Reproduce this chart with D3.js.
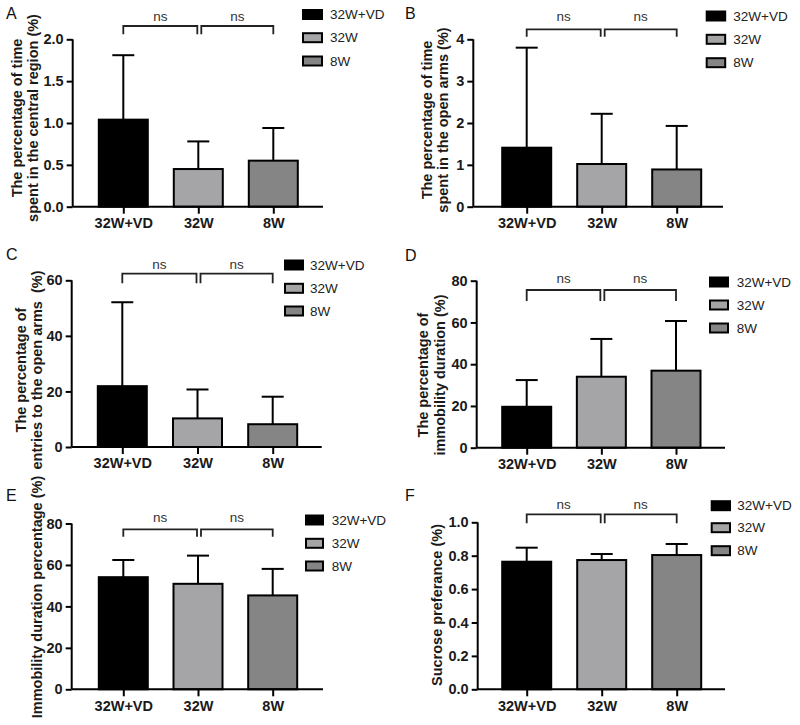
<!DOCTYPE html>
<html>
<head>
<meta charset="utf-8">
<script src="https://cdn.jsdelivr.net/npm/d3@7"></script>
<style>
  html, body { margin: 0; padding: 0; background: #fff; }
  svg { display: block; font-family: "Liberation Sans", Arial, sans-serif; }
</style>
</head>
<body>
<svg id="chart" width="800" height="725"></svg>
<script>
// ---------- DATA ----------
const categories = ["32W+VD", "32W", "8W"];
const legendLabels = ["32W+VD", "32W", "8W"];

const meansA = [1.04, 0.45, 0.55];
const errA   = [0.77, 0.33, 0.39];
const ticksA = [0, 0.5, 1.0, 1.5, 2.0];

const meansB = [1.41, 1.02, 0.89];
const errB   = [2.39, 1.20, 1.04];
const ticksB = [0, 1, 2, 3, 4];

const meansC = [21.9, 10.3, 8.2];
const errC   = [30.2, 10.4, 9.9];
const ticksC = [0, 20, 40, 60];

const meansD = [19.6, 34.0, 36.9];
const errD   = [12.8, 18.1, 23.8];
const ticksD = [0, 20, 40, 60, 80];

const meansE = [54.1, 50.9, 45.3];
const errE   = [8.3, 13.6, 12.8];
const ticksE = [0, 20, 40, 60, 80];

const meansF = [0.764, 0.774, 0.804];
const errF   = [0.084, 0.036, 0.066];
const ticksF = [0, 0.2, 0.4, 0.6, 0.8, 1.0];

const titleA = ["The percentage of time", "spent in the central region (%)"];
const titleB = ["The percentage of time", "spent in the open arms (%)"];
const titleC = ["The percentage of", "entries to the open arms  (%)"];
const titleD = ["The percentage of", "immobility duration (%)"];
const titleE = ["Immobility duration percentage (%)"];
const titleF = ["Sucrose preferance (%)"];

const sigLabel = "ns";
const panelLetters = ["A", "B", "C", "D", "E", "F"];

// ---------- STYLE / LAYOUT ----------
const fills = ["#000000", "#a5a5a8", "#858585"];
const FONT_BOLD = 14.5;

const panels = [
  { letter: panelLetters[0], means: meansA, err: errA, ticks: ticksA, fmt: ".1f", title: titleA,
    letterPos: [6, 19], x0: 72.7, xEnd: 323, c1: 123.3, c3: 273.3, y0: 206.7, yTop: 39.3,
    brTop: 26, brEnd: 34.3, nsY: 16,
    leg: { x: 303, w: 19, ys: [14.5, 37.7, 61], tx: 330 },
    titleX: [17, 33], titleY: 118 },
  { letter: panelLetters[1], means: meansB, err: errB, ticks: ticksB, fmt: "d", title: titleB,
    letterPos: [405, 19], x0: 473.3, xEnd: 723, c1: 526.7, c3: 676.7, y0: 206.7, yTop: 39.3,
    brTop: 29.3, brEnd: 36.7, nsY: 16.7,
    leg: { x: 706.7, w: 18.5, ys: [16, 39.3, 62.7], tx: 733.3 },
    titleX: [426.7, 443.3], titleY: 120 },
  { letter: panelLetters[2], means: meansC, err: errC, ticks: ticksC, fmt: "d", title: titleC,
    letterPos: [6, 259.5], x0: 71.7, xEnd: 321.7, c1: 122.3, c3: 272.7, y0: 447, yTop: 280.3,
    brTop: 273.7, brEnd: 283.3, nsY: 264,
    leg: { x: 285, w: 18, ys: [265, 288.3, 311], tx: 310 },
    titleX: [20.5, 36.5], titleY: 370 },
  { letter: panelLetters[3], means: meansD, err: errD, ticks: ticksD, fmt: "d", title: titleD,
    letterPos: [405, 261], x0: 476.7, xEnd: 725, c1: 526.7, c3: 676, y0: 447.7, yTop: 280.7,
    brTop: 290, brEnd: 301, nsY: 278,
    leg: { x: 710, w: 18, ys: [282, 305, 328], tx: 736.7 },
    titleX: [423, 440], titleY: 375 },
  { letter: panelLetters[4], means: meansE, err: errE, ticks: ticksE, fmt: "d", title: titleE,
    letterPos: [6, 500.5], x0: 71.7, xEnd: 323, c1: 123.3, c3: 272.7, y0: 689.3, yTop: 523.5,
    brTop: 529.3, brEnd: 536.7, nsY: 517.7,
    leg: { x: 306, w: 17, ys: [520, 543.3, 566], tx: 331.7 },
    titleX: [36.7], titleY: 597 },
  { letter: panelLetters[5], means: meansF, err: errF, ticks: ticksF, fmt: ".1f", title: titleF,
    letterPos: [405, 501], x0: 477.7, xEnd: 725, c1: 526.7, c3: 676.7, y0: 689.3, yTop: 522.3,
    brTop: 514.3, brEnd: 523.3, nsY: 504,
    leg: { x: 711.7, w: 18.3, ys: [505.7, 527.7, 550.7], tx: 737.3 },
    titleX: [436.7], titleY: 605 }
];

const svg = d3.select("#chart");

panels.forEach(p => {
  const g = svg.append("g");
  const yMax = p.ticks[p.ticks.length - 1];
  const y = d3.scaleLinear().domain([0, yMax]).range([p.y0, p.yTop]);
  const x = d3.scalePoint().domain(categories).range([p.c1, p.c3]);
  const barW = 49;

  // bars
  g.selectAll("rect.bar").data(categories).enter().append("rect")
    .attr("class", "bar")
    .attr("x", d => x(d) - barW / 2)
    .attr("y", (d, i) => y(p.means[i]))
    .attr("width", barW)
    .attr("height", (d, i) => p.y0 - y(p.means[i]))
    .attr("fill", (d, i) => fills[i])
    .attr("stroke", "#000")
    .attr("stroke-width", 2);

  // error bars (upper only)
  categories.forEach((c, i) => {
    const cx = x(c);
    const top = y(p.means[i] + p.err[i]);
    g.append("line").attr("x1", cx).attr("x2", cx)
      .attr("y1", y(p.means[i])).attr("y2", top)
      .attr("stroke", "#000").attr("stroke-width", 2);
    g.append("line").attr("x1", cx - 11).attr("x2", cx + 11)
      .attr("y1", top).attr("y2", top)
      .attr("stroke", "#000").attr("stroke-width", 2);
  });

  // y axis
  const yAxis = d3.axisLeft(y).tickValues(p.ticks).tickSize(6).tickPadding(3)
    .tickFormat(d3.format(p.fmt));
  const ya = g.append("g").attr("transform", `translate(${p.x0},0)`).call(yAxis);
  ya.select(".domain").attr("d", `M0,${p.y0}V${p.yTop}`).attr("stroke-width", 2);
  ya.selectAll(".tick line").attr("stroke-width", 2);
  ya.selectAll(".tick text").attr("font-size", FONT_BOLD).attr("font-weight", "bold")
    .attr("font-family", "Liberation Sans, Arial, sans-serif").attr("fill", "#1a1a1a");

  // x axis
  const xAxis = d3.axisBottom(x).tickSize(7).tickPadding(4).tickSizeOuter(0);
  const xa = g.append("g").attr("transform", `translate(0,${p.y0})`).call(xAxis);
  xa.select(".domain").attr("d", `M${p.x0},0H${p.xEnd}`).attr("stroke-width", 2);
  xa.selectAll(".tick line").attr("stroke-width", 2);
  xa.selectAll(".tick text").attr("font-size", FONT_BOLD).attr("font-weight", "bold")
    .attr("font-family", "Liberation Sans, Arial, sans-serif").attr("fill", "#1a1a1a");

  // significance brackets
  const c1 = x(categories[0]), c2 = x(categories[1]), c3 = x(categories[2]);
  const brackets = [[c1, c2 - 1], [c2 + 3, c3]];
  brackets.forEach(([a, b]) => {
    g.append("path")
      .attr("d", `M${a},${p.brEnd}V${p.brTop}H${b}V${p.brEnd}`)
      .attr("fill", "none").attr("stroke", "#222").attr("stroke-width", 1.8);
    g.append("text").attr("x", (a + b) / 2).attr("y", p.nsY)
      .attr("text-anchor", "middle").attr("dominant-baseline", "central")
      .attr("font-size", 13.5).attr("fill", "#333").text(sigLabel);
  });

  // legend
  legendLabels.forEach((lab, i) => {
    const cy = p.leg.ys[i];
    g.append("rect").attr("x", p.leg.x).attr("y", cy - 4.5)
      .attr("width", p.leg.w).attr("height", 9)
      .attr("fill", fills[i]).attr("stroke", "#000").attr("stroke-width", 2);
    g.append("text").attr("x", p.leg.tx).attr("y", cy)
      .attr("dominant-baseline", "central").attr("font-size", 13.5)
      .attr("fill", "#222").text(lab);
  });

  // y title
  p.title.forEach((line, i) => {
    g.append("text")
      .attr("transform", `translate(${p.titleX[i]},${p.titleY}) rotate(-90)`)
      .attr("text-anchor", "middle").attr("dominant-baseline", "central")
      .attr("font-size", FONT_BOLD).attr("font-weight", "bold").attr("fill", "#1a1a1a")
      .attr("xml:space", "preserve").style("white-space", "pre")
      .text(line);
  });

  // panel letter
  g.append("text").attr("x", p.letterPos[0]).attr("y", p.letterPos[1])
    .attr("font-size", 16).attr("fill", "#111").text(p.letter);
});
</script>
</body>
</html>
